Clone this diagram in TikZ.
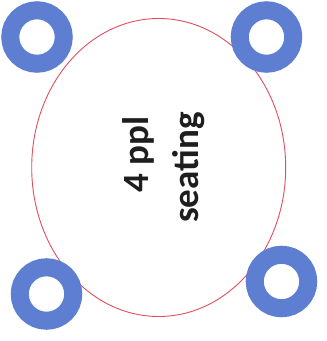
\documentclass[tikz,border=0pt]{standalone}
\usepackage{fontspec}
\setmainfont{Carlito}
\usepackage{xcolor}
\usepackage{tikz}
\usetikzlibrary{shapes.geometric}
\definecolor{seatblue}{RGB}{94,126,210}
\definecolor{tablered}{RGB}{228,78,92}
\definecolor{labelgray}{RGB}{30,30,30}

\begin{document}
\begin{tikzpicture}[
      x=1pt, y=-1pt,
      tbl/.style={ellipse, draw=tablered, line width=0.9pt, minimum width=254pt, minimum height=298pt, inner sep=0pt},
      seat/.style={circle, draw=seatblue, line width=18pt, minimum size=53.5pt, inner sep=0pt},
      lbl/.style={rotate=90, anchor=base west, inner sep=0pt, text=labelgray, font=\fontsize{37}{45}\selectfont\bfseries}
    ]
      \useasboundingbox[fill=white] (0,0) rectangle (327,341);
      \node[tbl] (table) at (158.7,167.5) {};
      \node[seat] (tl) at (37,37) {};
      \node[seat] (tr) at (266.5,37) {};
      \node[seat] (bl) at (46.5,294) {};
      \node[seat] (br) at (281.5,281.5) {};
      \node[lbl] (ppl) at (148,193) {4 ppl};
      \node[lbl] (seating) at (198,223) {seating};
    \end{tikzpicture}
\end{document}
